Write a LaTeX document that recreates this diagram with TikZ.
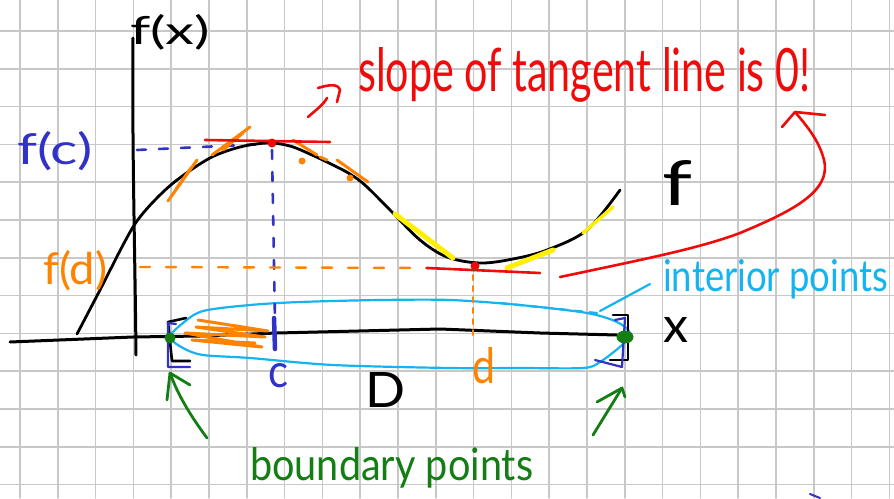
\documentclass[tikz,border=0pt]{standalone}
\usepackage{fontspec}
\setmainfont{Lato}
\usepackage{graphicx}
\definecolor{gridgray}{RGB}{200,200,200}
\definecolor{penred}{RGB}{240,10,10}
\definecolor{penorange}{RGB}{255,130,0}
\definecolor{penblue}{RGB}{50,50,200}
\definecolor{pencyan}{RGB}{20,180,240}
\definecolor{penyellow}{RGB}{255,240,0}
\definecolor{pengreen}{RGB}{20,125,20}
\begin{document}
\begin{tikzpicture}[x=1pt,y=-1pt,line cap=round,line join=round,
  gridline/.style={gridgray,line width=1.6pt},
  blackpen/.style={black,line width=3pt},
  thinblack/.style={black,line width=2pt},
  redpen/.style={penred,line width=2.6pt},
  orangepen/.style={penorange,line width=3pt},
  bluepen/.style={penblue,line width=2.6pt},
  cyanpen/.style={pencyan,line width=2.2pt},
  yellowpen/.style={penyellow,line width=5pt},
  greenpen/.style={pengreen,line width=2.8pt},
  bluedash/.style={bluepen,dash pattern=on 9pt off 13pt},
  orangedash/.style={orangepen,line width=2.4pt,dash pattern=on 10pt off 16pt},
  orangedot/.style={orangepen,line width=2pt,dash pattern=on 5pt off 6pt},
  lbl/.style={anchor=base west,inner sep=0pt}]
\useasboundingbox (0,0) rectangle (894,498);
\fill[white] (0,0) rectangle (894,498);
% grid
\foreach \i in {0,...,23} \draw[gridline] ({20+37.8*\i},0) -- ({20+37.8*\i},498);
\foreach \j in {0,...,12} \draw[gridline] (0,{31+37.8*\j}) -- (894,{31+37.8*\j});

% cyan region (interior)
\draw[cyanpen] plot[smooth cycle,tension=0.5] coordinates {(170,337) (183,323) (203,311) (250,305) (300,302) (380,300) (450,300) (520,305) (587,313) (617,322) (630,333) (622,345) (600,362) (583,368) (520,368) (450,368) (333,365) (250,358) (203,355) (183,348)};
\draw[cyanpen,dash pattern=on 8pt off 7pt] (500,303) -- (597,313);

% axes
\draw[blackpen] (10,342) -- (133,337) -- (200,336) -- (277,333) -- (440,329) -- (540,333) -- (617,335);
\draw[blackpen] (133,38) .. controls (132,150) and (135,250) .. (136,355);

% orange scribble on [a,c]
\draw[orangepen] (198,320) -- (268,331) -- (196,327) -- (265,337) -- (185,333) -- (262,347) -- (192,340) -- (255,343);

% dashed guides
\draw[bluedash] (137,150) -- (265,144);
\draw[bluedash] (272,150) -- (275,322);
\draw[orangedash] (140,267) -- (428,268);
\draw[orangedot] (473,275) -- (473,338);

% curve f
\draw[blackpen,line width=2.8pt] plot[smooth,tension=0.55] coordinates {(77,334) (100,290) (123,245) (137,221) (155,200) (177,180) (210,158) (240,147) (268,143) (290,146) (312,155) (333,165) (350,174) (366,186) (392,212) (420,240) (447,257) (480,263) (513,259) (547,250) (587,230) (620,190)};

% orange tangents
\draw[orangepen] (168,201) -- (197,160);
\draw[orangepen] (176,189) -- (191,168);
\draw[orangepen] (212,155) -- (250,127);
\draw[orangepen] (223,150) -- (243,133);
\draw[orangepen] (293,140) -- (317,155);
\draw[orangepen] (320,157) -- (327,160);
\draw[orangepen] (337,160) -- (368,182);
\fill[penorange] (302,161) circle (3.5);
\fill[penorange] (350,178) circle (3.5);

% yellow tangents
\draw[yellowpen] (395,214) -- (453,258);
\draw[yellowpen] (507,268) -- (553,250);
\draw[yellowpen,line width=3.5pt] (583,233) -- (613,207);

% red tangents and points
\draw[redpen] (205,140) -- (330,142);
\fill[penred] (272,143) circle (4.5);
\draw[redpen] (427,268) -- (540,273);
\fill[penred] (475,266) circle (4.5);
\fill[pengreen] (474,270) circle (1.5);

% blue tick at c
\draw[bluepen,line width=4.5pt] (274,318) -- (275,349);

% brackets
\draw[thinblack,line width=2.6pt] (186,318) -- (168,322) -- (172,361) -- (190,361);
\draw[bluepen,line width=2.2pt] (176,324) -- (168,323) -- (168,367) -- (190,367);
\draw[thinblack,line width=2.6pt] (613,315) -- (628,315) -- (628,360) -- (610,360);
\draw[bluepen,line width=2.2pt] (615,320) -- (625,318) -- (622,367) -- (595,360);

% endpoints
\fill[pengreen] (170,338) circle (5.5);
\fill[pengreen] (625,337) ellipse (8.5 and 6.5);

% red arrow to the note
\coordinate (rtail) at (560,277);
\coordinate (rtip) at (795,112);
\draw[redpen] (rtail) .. controls (650,258) and (700,248) .. (740,233) .. controls (790,212) and (832,192) .. (824,160) .. controls (819,140) and (806,125) .. (rtip);
\draw[redpen] (782,127) -- (rtip) -- (825,115);
% small red arrow before the note
\draw[redpen] (308,117) .. controls (316,110) and (324,104) .. (327,98);
\draw[redpen] (318,88) .. controls (328,85) and (338,83) .. (340,90) -- (337,102);

% cyan pointer
\draw[cyanpen] (600,311) -- (650,284);

% green arrows
\coordinate (gl) at (170,373);
\coordinate (gr) at (622,388);
\draw[greenpen] (207,438) .. controls (190,415) and (178,395) .. (gl);
\draw[greenpen] (167,400) -- (gl) -- (190,385);
\draw[greenpen] (593,435) -- (gr);
\draw[greenpen] (597,402) -- (gr) -- (625,397);

% tiny blue mark
\draw[bluepen,line width=2pt] (810,494) -- (820,498);

% labels
\node[lbl] (fx) at (130,44) {\resizebox{80pt}{30pt}{f(x)}};
\node[lbl,text=penblue] (fc) at (17,164) {\resizebox{75pt}{33pt}{f(c)}};
\node[lbl,text=penorange] (fd) at (43,284) {\resizebox{64pt}{34pt}{f(d)}};
\node[lbl] (flab) at (662,205) {\resizebox{30pt}{45pt}{f}};
\node[lbl] (xlab) at (663,342) {\resizebox{25pt}{25pt}{x}};
\node[lbl,text=penblue] (clab) at (268,387) {\resizebox{20pt}{24pt}{c}};
\node[lbl,text=penorange] (dlab) at (472,383) {\resizebox{23pt}{36pt}{d}};
\node[lbl] (Dlab) at (365,407) {\resizebox{40pt}{35pt}{D}};
\node[lbl,text=penred] (note) at (358,91) {\resizebox{452pt}{44pt}{slope of tangent line is 0!}};
\node[lbl,text=pencyan] (interior) at (663,291) {\resizebox{225pt}{32pt}{interior points}};
\node[lbl,text=pengreen] (boundary) at (250,480) {\resizebox{283pt}{33pt}{boundary points}};
\end{tikzpicture}
\end{document}
